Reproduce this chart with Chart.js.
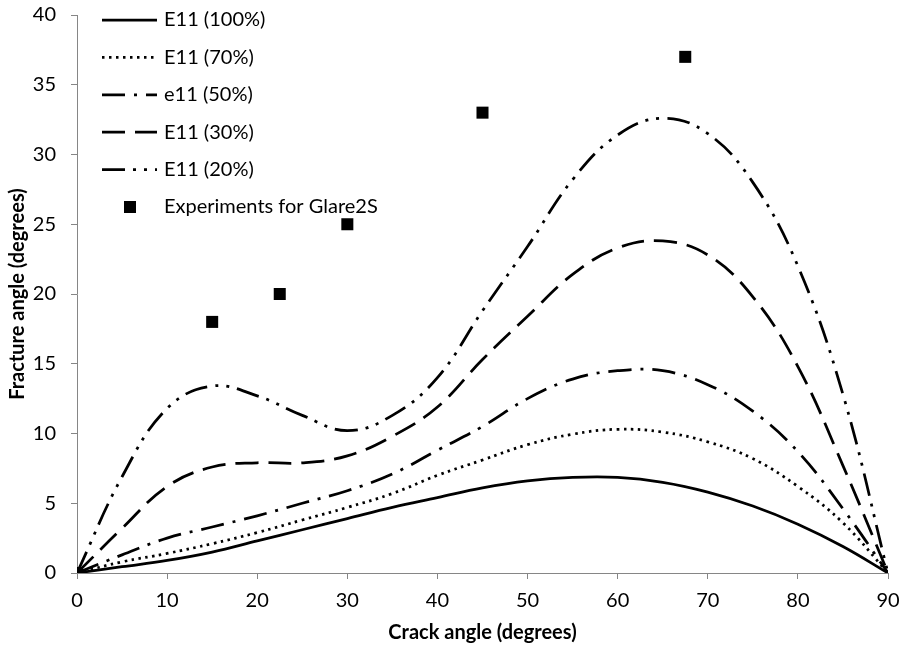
<!DOCTYPE html>
<html>
<head>
<meta charset="utf-8">
<script src="https://cdn.jsdelivr.net/npm/chart.js@4.4.1/dist/chart.umd.min.js"></script>
<style>
  html, body { margin: 0; padding: 0; background: #fff; }
  #wrap { width: 902px; height: 647px; position: relative; }
</style>
</head>
<body>
<div id="wrap"><canvas id="chart"></canvas></div>
<script>
// crack angle samples (degrees)
const crackAngles = [0, 5, 10, 15, 20, 25, 30, 35, 40, 45, 50, 55, 60, 65, 70, 75, 80, 85, 90];

// fracture angle, one array per E11 reduction
const e11_100 = [0, 0.45, 0.9, 1.5, 2.3, 3.1, 3.9, 4.7, 5.4, 6.1, 6.6, 6.85, 6.85, 6.5, 5.8, 4.8, 3.5, 1.9, 0];
const e11_70  = [0, 0.8, 1.4, 2.1, 2.9, 3.8, 4.7, 5.7, 7.0, 8.1, 9.2, 9.95, 10.3, 10.1, 9.4, 8.2, 6.2, 3.6, 0];
const e11_50  = [0, 1.3, 2.5, 3.3, 4.1, 5.0, 5.9, 7.1, 8.8, 10.5, 12.5, 13.9, 14.5, 14.5, 13.5, 11.6, 8.7, 4.6, 0];
const e11_30  = [0, 3.2, 6.2, 7.6, 7.9, 7.9, 8.4, 9.8, 11.9, 15.3, 18.4, 21.4, 23.3, 23.8, 22.8, 19.8, 14.8, 7.7, 0];
const e11_20  = [0, 6.9, 11.8, 13.4, 12.7, 11.3, 10.2, 11.3, 14.0, 18.8, 23.4, 28.2, 31.4, 32.6, 31.5, 28.0, 22.0, 12.8, 0];

// experiments
const expAngles = [0, 15, 22.5, 30, 45, 67.5];
const expValues = [0, 18, 20, 25, 33, 37];

const xTicks = [0, 10, 20, 30, 40, 50, 60, 70, 80, 90];
const yTicks = [0, 5, 10, 15, 20, 25, 30, 35, 40];

const FONT = 'Lato, "Open Sans", sans-serif';
const AXIS_GREY = '#868686';

const pts = (xs, ys) => xs.map((x, i) => ({ x: x, y: ys[i] }));

function curve(label, values, dash) {
    return {
        label: label,
        data: pts(crackAngles, values),
        showLine: true,
        borderColor: '#000',
        backgroundColor: '#000',
        borderWidth: 2.75,
        borderDash: dash,
        borderCapStyle: 'butt',
        pointRadius: 0,
        pointHoverRadius: 0,
        tension: 0.4
    };
}

// scales ask for room for their end labels; the layout padding handles that here
function noEdgePadding(s) {
    s.paddingTop = 0;
    s.paddingBottom = 0;
    s.paddingLeft = 0;
    s.paddingRight = 0;
}

// legend drawn inside the plot, top left, like the excel one
const insideLegend = {
    id: 'insideLegend',
    afterDraw(chart) {
        const ctx = chart.ctx;
        chart.data.datasets.forEach((ds, i) => {
            const y = 20 + i * 37.4;
            ctx.save();
            if (ds.showLine) {
                ctx.strokeStyle = ds.borderColor;
                ctx.lineWidth = ds.borderWidth;
                ctx.lineCap = ds.borderCapStyle;
                ctx.setLineDash(ds.borderDash || []);
                ctx.beginPath();
                ctx.moveTo(102, y);
                ctx.lineTo(157, y);
                ctx.stroke();
            } else {
                ctx.fillStyle = ds.backgroundColor;
                ctx.fillRect(124, y - 6, 12, 12);
            }
            ctx.setLineDash([]);
            ctx.fillStyle = '#000';
            ctx.font = '20px ' + FONT;
            ctx.textBaseline = 'middle';
            ctx.textAlign = 'left';
            ctx.fillText(ds.label, 164, y);
            ctx.restore();
        });
    }
};

new Chart(document.getElementById('chart'), {
    type: 'scatter',
    data: {
        datasets: [
            curve('E11 (100%)', e11_100, []),
            curve('E11 (70%)', e11_70, [2.5, 4.5]),
            curve('e11 (50%)', e11_50, [23, 9, 3, 9]),
            curve('E11 (30%)', e11_30, [23, 10]),
            curve('E11 (20%)', e11_20, [23, 8, 3, 8, 3, 8]),
            {
                label: 'Experiments for Glare2S',
                data: pts(expAngles, expValues),
                showLine: false,
                backgroundColor: '#000',
                borderColor: '#000',
                borderWidth: 0,
                pointStyle: 'rect',
                pointRadius: 8.5,
                pointHoverRadius: 8.5
            }
        ]
    },
    options: {
        responsive: true,
        maintainAspectRatio: false,
        animation: false,
        layout: { padding: { left: 0, right: 14, top: 15, bottom: 0 } },
        plugins: {
            legend: { display: false },
            tooltip: { enabled: false }
        },
        scales: {
            x: {
                type: 'linear',
                min: 0,
                max: 90,
                afterBuildTicks: s => { s.ticks = xTicks.map(v => ({ value: v })); },
                afterFit: s => { s.height = 74; noEdgePadding(s); },
                ticks: { color: '#000', font: { family: FONT, size: 20 }, padding: 10 },
                grid: { drawOnChartArea: false, drawTicks: true, tickLength: 6, color: AXIS_GREY },
                border: { color: AXIS_GREY, width: 1 },
                title: {
                    display: true,
                    text: 'Crack angle (degrees)',
                    color: '#000',
                    font: { family: FONT, size: 20, weight: 'bold' },
                    padding: { top: 0, bottom: 2 }
                }
            },
            y: {
                type: 'linear',
                min: 0,
                max: 40,
                afterBuildTicks: s => { s.ticks = yTicks.map(v => ({ value: v })); },
                afterFit: s => { s.width = 77; noEdgePadding(s); },
                ticks: { color: '#000', font: { family: FONT, size: 20 }, padding: 15 },
                grid: { drawOnChartArea: false, drawTicks: true, tickLength: 6, color: AXIS_GREY },
                border: { color: AXIS_GREY, width: 1 },
                title: {
                    display: true,
                    text: 'Fracture angle (degrees)',
                    color: '#000',
                    font: { family: FONT, size: 20, weight: 'bold' },
                    padding: { top: 6, bottom: 0 }
                }
            }
        }
    },
    plugins: [insideLegend]
});
</script>
</body>
</html>
